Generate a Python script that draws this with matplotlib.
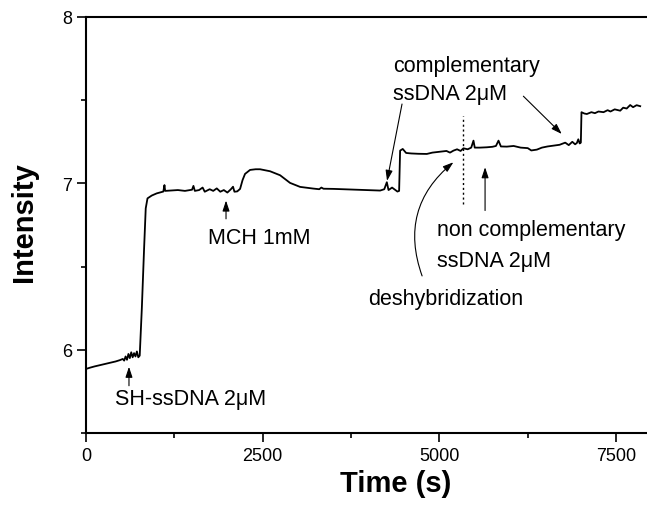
import matplotlib
matplotlib.use("Agg")
import matplotlib.pyplot as plt
from matplotlib.ticker import MultipleLocator

plt.rcParams['font.family'] = ['Liberation Sans', 'DejaVu Sans']

time_s = [0, 60, 120, 180, 240, 300, 360, 420, 480, 520, 540, 560, 580, 600, 620, 640, 660, 680,
          700, 720, 740, 760, 790, 821, 845, 870, 930, 1000, 1094, 1110, 1120, 1200, 1300, 1400,
          1500, 1520, 1540, 1600, 1650, 1680, 1750, 1800, 1850, 1900, 1950, 2000, 2050, 2080, 2100,
          2140, 2180, 2215, 2250, 2321, 2400, 2463, 2604, 2746, 2887, 3029, 3213, 3300, 3330, 3360,
          3500, 3783, 4000, 4161, 4220, 4256, 4280, 4330, 4406, 4430, 4444, 4481, 4529, 4600, 4700,
          4822, 4900, 5000, 5100, 5150, 5199, 5250, 5300, 5340, 5400, 5450, 5482, 5500, 5571, 5671,
          5750, 5800, 5836, 5870, 5954, 6050, 6150, 6250, 6300, 6379, 6450, 6530, 6614, 6700, 6780,
          6830, 6880, 6920, 6945, 6965, 6985, 7001, 7010, 7050, 7086, 7150, 7200, 7250, 7322, 7380,
          7420, 7480, 7558, 7600, 7650, 7699, 7740, 7790, 7841]
intensity = [5.885, 5.893, 5.900, 5.906, 5.912, 5.918, 5.924, 5.930, 5.938, 5.945, 5.935, 5.960,
             5.940, 5.975, 5.950, 5.985, 5.955, 5.980, 5.960, 5.990, 5.955, 5.965, 6.25, 6.60, 6.85,
             6.91, 6.927, 6.940, 6.951, 6.99, 6.955, 6.957, 6.960, 6.955, 6.962, 6.985, 6.955, 6.960,
             6.975, 6.950, 6.965, 6.955, 6.970, 6.950, 6.960, 6.945, 6.965, 6.980, 6.950, 6.952,
             6.967, 7.02, 7.057, 7.081, 7.085, 7.085, 7.073, 7.049, 7.003, 6.979, 6.969, 6.965, 6.975,
             6.968, 6.967, 6.963, 6.960, 6.957, 6.965, 7.007, 6.960, 6.975, 6.951, 6.955, 7.197,
             7.207, 7.183, 7.180, 7.178, 7.177, 7.185, 7.190, 7.195, 7.185, 7.197, 7.205, 7.195,
             7.211, 7.205, 7.215, 7.257, 7.215, 7.215, 7.217, 7.220, 7.225, 7.257, 7.222, 7.221,
             7.225, 7.215, 7.212, 7.198, 7.203, 7.215, 7.222, 7.227, 7.232, 7.245, 7.230, 7.250,
             7.235, 7.243, 7.265, 7.240, 7.245, 7.428, 7.420, 7.417, 7.428, 7.422, 7.432, 7.428,
             7.440, 7.432, 7.445, 7.437, 7.455, 7.450, 7.471, 7.458, 7.470, 7.464]

x_ticks = [0, 2500, 5000, 7500]
y_ticks = [6, 7, 8]

W, H = 647, 506
fig = plt.figure(figsize=(W / 100, H / 100), dpi=100)
L, R, T, B = 86, 647, 18, 434
ax = fig.add_axes([L / W, 1 - B / H, (R - L) / W, (B - T) / H])

ax.plot(time_s, intensity, color='black', lw=1.3)
ax.set_xlim(0, 7937)
ax.set_ylim(5.5, 8)
ax.set_xticks(x_ticks)
ax.set_yticks(y_ticks)
ax.set_xticklabels([str(v) for v in x_ticks])
ax.set_yticklabels([str(v) for v in y_ticks])
ax.xaxis.set_minor_locator(MultipleLocator(1250))
ax.yaxis.set_minor_locator(MultipleLocator(0.5))
ax.tick_params(which='major', direction='out', length=6.5, width=1.2, labelsize=13, pad=3.5)
ax.tick_params(which='minor', direction='out', length=3.3, width=1.2)
ax.spines['right'].set_visible(False)
for s in ['left', 'bottom', 'top']:
    ax.spines[s].set_linewidth(1.5)

ax.set_xlabel('Time (s)', fontsize=21, fontweight='bold')
ax.set_ylabel('Intensity', fontsize=21, fontweight='bold')
ax.xaxis.set_label_coords((396 - L) / (R - L), (B - 484) / (B - T), transform=ax.transAxes)
ax.yaxis.set_label_coords((24 - L) / (R - L), (B - 222) / (B - T), transform=ax.transAxes)
ax.xaxis.label.set_va('center')
ax.yaxis.label.set_va('center')

fs = 15.5
txt = dict(fontsize=fs, ha='left', va='baseline', color='black')
ax.text(410, 5.676, 'SH-ssDNA 2\u03bcM', **txt)
ax.text(1727, 6.643, 'MCH 1mM', **txt)
ax.text(4345, 7.676, 'complementary', **txt)
ax.text(4345, 7.508, 'ssDNA 2\u03bcM', **txt)
ax.text(4963, 6.687, 'non complementary', **txt)
ax.text(4963, 6.506, 'ssDNA 2\u03bcM', **txt)
ax.text(3991, 6.276, 'deshybridization', **txt)

ax.plot([5330, 5330], [6.877, 7.407], color='black', lw=1.0, ls=(0, (1.5, 2)))

def arrow(tail, head, rad=0.0):
    ax.annotate('', xy=head, xytext=tail,
                arrowprops=dict(arrowstyle='-|>,head_length=0.45,head_width=0.15',
                                color='black', lw=0.8, shrinkA=0, shrinkB=0,
                                mutation_scale=14,
                                connectionstyle='arc3,rad=%g' % rad))

arrow((608, 5.784), (608, 5.898))
arrow((1981, 6.787), (1981, 6.897))
arrow((4471, 7.477), (4259, 7.015))
arrow((6188, 7.524), (6731, 7.297))
arrow((5646, 6.837), (5646, 7.097))
arrow((4755, 6.444), (5198, 7.127), rad=-0.35)

fig.savefig('out.png', dpi=100)
